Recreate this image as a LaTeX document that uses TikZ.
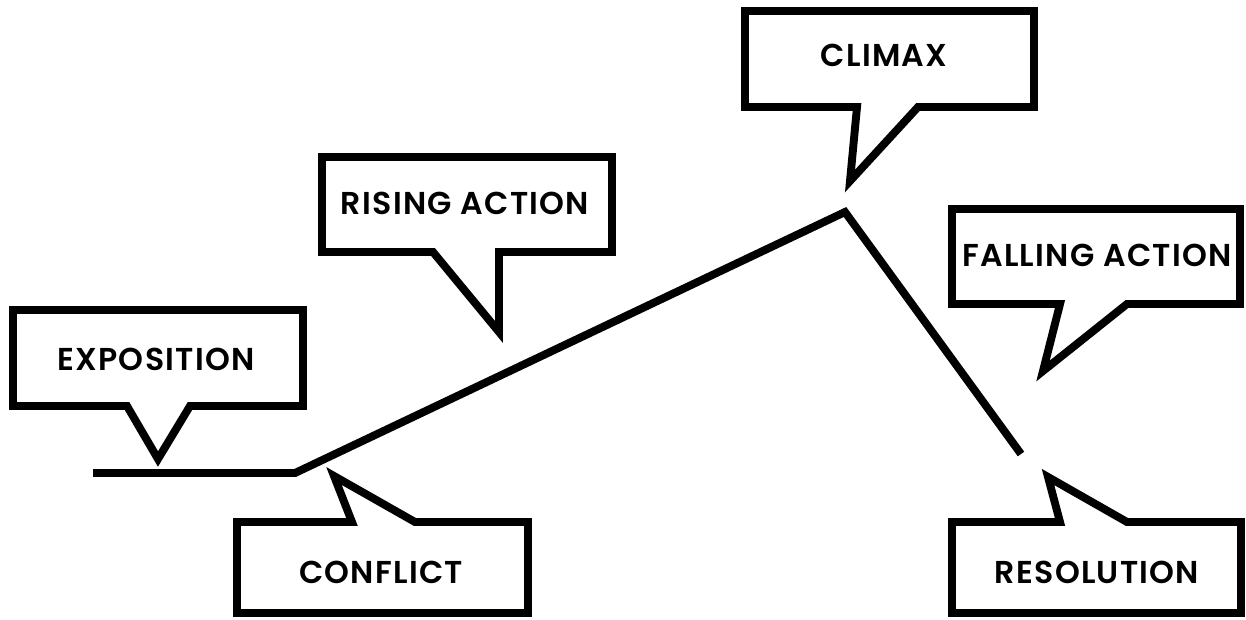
\documentclass[tikz,border=0pt]{standalone}
\usepackage{fontspec}
\setmainfont{Poppins}
\newfontfamily\tagfont{Poppins}[UprightFont=* SemiBold, LetterSpace=4]
\usepackage{tikz}
\usetikzlibrary{positioning}

\begin{document}
\begin{tikzpicture}[
    x=0.02cm, y=-0.02cm,
    bubble/.style={draw=black, line width=4.5pt, miter limit=10, fill=white},
    plotline/.style={draw=black, line width=4.5pt},
    tag/.style={font=\tagfont\fontsize{18}{20}\selectfont, inner sep=0pt, anchor=center}
]
\useasboundingbox (0,0) rectangle (1246,619);
\coordinate (start) at (93,473);
\coordinate (turn) at (295,473);
\coordinate (peak) at (845,212);
\coordinate (finish) at (1021,454);
\draw[plotline] (start) -- (turn) -- (peak) -- (finish);
\draw[bubble] (13,310) -- (303,310) -- (303,406) -- (190,406) -- (158,459) -- (127,406) -- (13,406) -- cycle;
\draw[bubble] (237,522) -- (352,522) -- (334,476) -- (415,522) -- (528,522) -- (528,613) -- (237,613) -- cycle;
\draw[bubble] (322,157) -- (612,157) -- (612,252) -- (499,252) -- (499,332) -- (433,252) -- (322,252) -- cycle;
\draw[bubble] (745,11) -- (1034,11) -- (1034,107) -- (918,107) -- (850,181) -- (857,107) -- (745,107) -- cycle;
\draw[bubble] (952,209) -- (1240,209) -- (1240,304) -- (1127,304) -- (1043,371) -- (1060,304) -- (952,304) -- cycle;
\draw[bubble] (952,522) -- (1060,522) -- (1048,477) -- (1127,522) -- (1241,522) -- (1241,613) -- (952,613) -- cycle;
\node[tag] (exposition) at (156,359) {EXPOSITION};
\node[tag] (conflict) at (381,572) {CONFLICT};
\node[tag] (rising) at (465,203) {RISING ACTION};
\node[tag] (climax) at (884,55) {CLIMAX};
\node[tag] (falling) at (1097,255) {FALLING ACTION};
\node[tag] (resolution) at (1097,572) {RESOLUTION};
\end{tikzpicture}
\end{document}
